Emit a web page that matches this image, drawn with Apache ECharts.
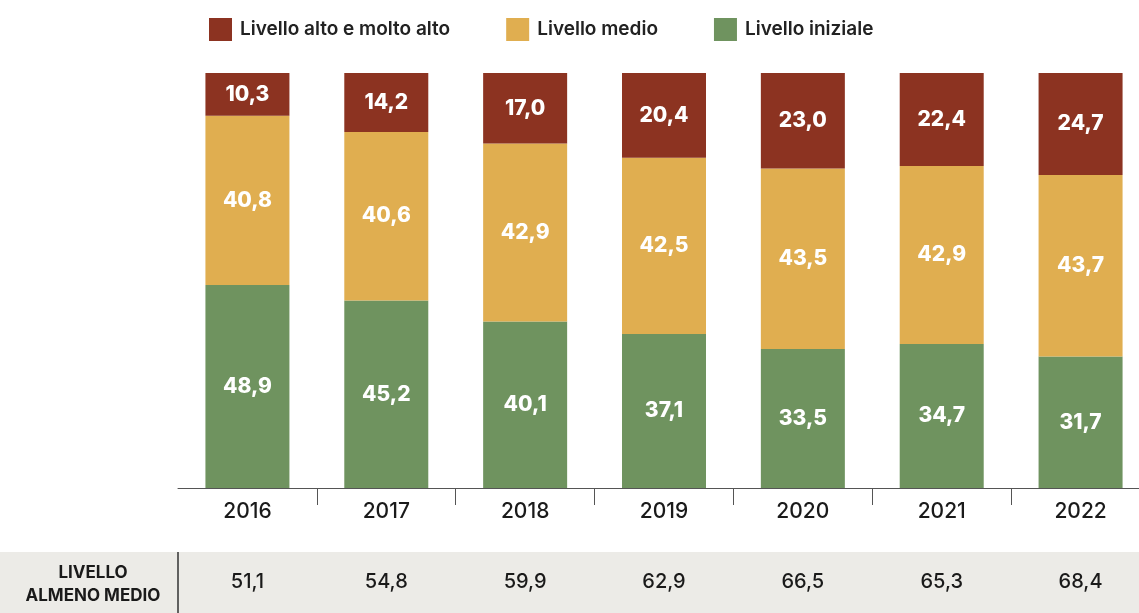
<!DOCTYPE html>
<html>
<head>
<meta charset="utf-8">
<script src="https://cdn.jsdelivr.net/npm/echarts@6/dist/echarts.min.js"></script>
<style>
  html, body { margin: 0; padding: 0; background: #fff; overflow: hidden; }
  #chart { width: 1150px; height: 613px; }
</style>
</head>
<body>
<div id="chart"></div>
<script>
const years = ['2016', '2017', '2018', '2019', '2020', '2021', '2022'];
const livelloIniziale = [48.9, 45.2, 40.1, 37.1, 33.5, 34.7, 31.7];
const livelloMedio = [40.8, 40.6, 42.9, 42.5, 43.5, 42.9, 43.7];
const livelloAlto = [10.3, 14.2, 17.0, 20.4, 23.0, 22.4, 24.7];
const almenoMedio = [51.1, 54.8, 59.9, 62.9, 66.5, 65.3, 68.4];

const FONT = 'Inter, Roboto, sans-serif';
const fmt = v => v.toFixed(1).replace('.', ',');

// the plot runs a little past the right edge of the window, like the original
const chart = echarts.init(document.getElementById('chart'));

const barLabel = {
  show: true,
  position: 'inside',
  color: '#fff',
  fontFamily: FONT,
  fontWeight: 800,
  fontSize: 21,
  formatter: p => fmt(p.value)
};

const makeSeries = (name, data, color) => ({
  name,
  type: 'bar',
  stack: 'tot',
  barWidth: 84,
  data,
  itemStyle: { color },
  label: barLabel,
  emphasis: { disabled: true }
});

chart.setOption({
  animation: false,
  legend: {
    data: ['Livello alto e molto alto', 'Livello medio', 'Livello iniziale'],
    left: 204,
    top: 13,
    itemWidth: 23,
    itemHeight: 23,
    itemGap: 56,
    icon: 'rect',
    textStyle: { fontFamily: FONT, fontSize: 19, fontWeight: 600, color: '#222', padding: [0, 0, 0, 3] }
  },
  grid: { left: 178, right: 0, top: 73, bottom: 125 },
  xAxis: [
    {
      type: 'category',
      data: years,
      axisLine: { lineStyle: { color: '#555', width: 1 } },
      axisTick: { show: true, length: 17, interval: i => Number(i) > 0, lineStyle: { color: '#555' } },
      axisLabel: { fontFamily: FONT, fontSize: 21, fontWeight: 500, color: '#1a1a1a', margin: 13 }
    },
    {
      type: 'category',
      data: years,
      position: 'bottom',
      offset: 76,
      axisLine: { show: false },
      axisTick: { show: false },
      axisLabel: {
        fontFamily: FONT, fontSize: 20, fontWeight: 500, color: '#1a1a1a',
        formatter: (v, i) => fmt(almenoMedio[i])
      }
    }
  ],
  yAxis: { type: 'value', min: 0, max: 100, show: false },
  graphic: [
    { type: 'rect', z: -10, shape: { x: 0, y: 552, width: 1150, height: 61 }, style: { fill: '#ecebe7' } },
    { type: 'line', shape: { x1: 178, y1: 552, x2: 178, y2: 613 }, style: { stroke: '#333', lineWidth: 1.5 } },
    {
      type: 'text', x: 93, y: 584,
      style: {
        text: 'LIVELLO\nALMENO MEDIO', align: 'center', verticalAlign: 'middle',
        fontFamily: FONT, fontSize: 17, fontWeight: 700, lineHeight: 23, fill: '#1a1a1a'
      }
    }
  ],
  series: [
    makeSeries('Livello iniziale', livelloIniziale, '#6f935f'),
    makeSeries('Livello medio', livelloMedio, '#e0ae50'),
    makeSeries('Livello alto e molto alto', livelloAlto, '#8c3321')
  ]
});
</script>
</body>
</html>
